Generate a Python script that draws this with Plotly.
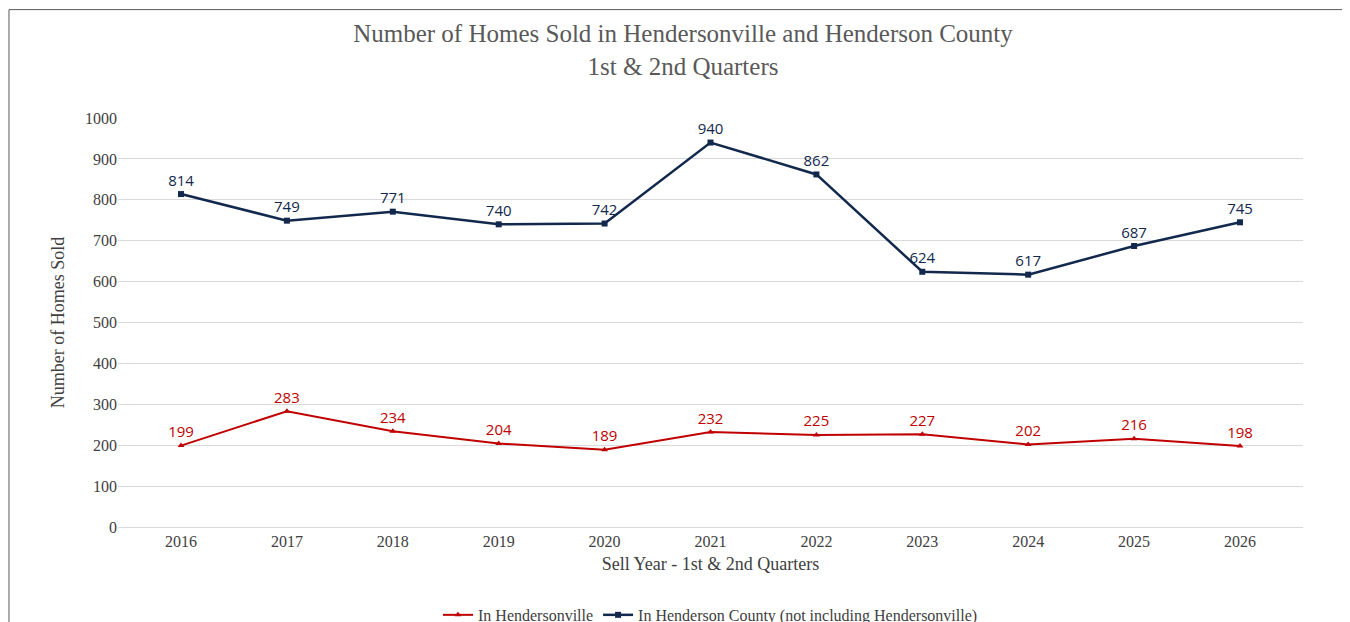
import plotly.graph_objects as go

years = ["2016", "2017", "2018", "2019", "2020", "2021", "2022", "2023", "2024", "2025", "2026"]
hendersonville = [199, 283, 234, 204, 189, 232, 225, 227, 202, 216, 198]
county = [814, 749, 771, 740, 742, 940, 862, 624, 617, 687, 745]

red = "#C00000"
navy = "#12284C"

fig = go.Figure()
fig.add_trace(go.Scatter(
    x=years, y=hendersonville, name="In Hendersonville",
    mode="lines+markers+text", text=hendersonville, textposition="top center",
    textfont=dict(family="Open Sans", size=15, color=red),
    line=dict(color=red, width=2), marker=dict(symbol="triangle-up", size=6, color=red),
))
fig.add_trace(go.Scatter(
    x=years, y=county, name="In Henderson County (not including Hendersonville)",
    mode="lines+markers+text", text=county, textposition="top center",
    textfont=dict(family="Open Sans", size=15, color=navy),
    line=dict(color=navy, width=2.5), marker=dict(symbol="square", size=6, color=navy),
))

fig.update_layout(
    width=1350, height=622,
    paper_bgcolor="white", plot_bgcolor="white",
    font=dict(family="Liberation Serif", size=16, color="#404040"),
    title=dict(text="Number of Homes Sold in Hendersonville and Henderson County<br>1st & 2nd Quarters",
               x=0.5, xanchor="center", y=0.945, yanchor="top",
               font=dict(family="Liberation Serif", size=25, color="#595959")),
    margin=dict(l=110, r=55, t=110, b=103, autoexpand=False),
    legend=dict(orientation="h", x=0.5, xanchor="center", y=-0.215, yanchor="middle",
                font=dict(family="Liberation Serif", size=16, color="#404040")),
    shapes=[dict(type="rect", xref="paper", yref="paper", x0=-0.0920, x1=1.0450, y0=-0.248, y1=1.265,
                 line=dict(color="#595959", width=1))],
)
fig.update_xaxes(title=dict(text="Sell Year - 1st & 2nd Quarters", font=dict(size=18), standoff=8),
                 showline=True, linecolor="#d9d9d9", ticks="", showgrid=False)
fig.update_yaxes(title=dict(text="Number of Homes Sold", font=dict(size=18)),
                 range=[0, 1000], dtick=100, gridcolor="#d9d9d9", zeroline=False)

fig.write_html("out.html")
